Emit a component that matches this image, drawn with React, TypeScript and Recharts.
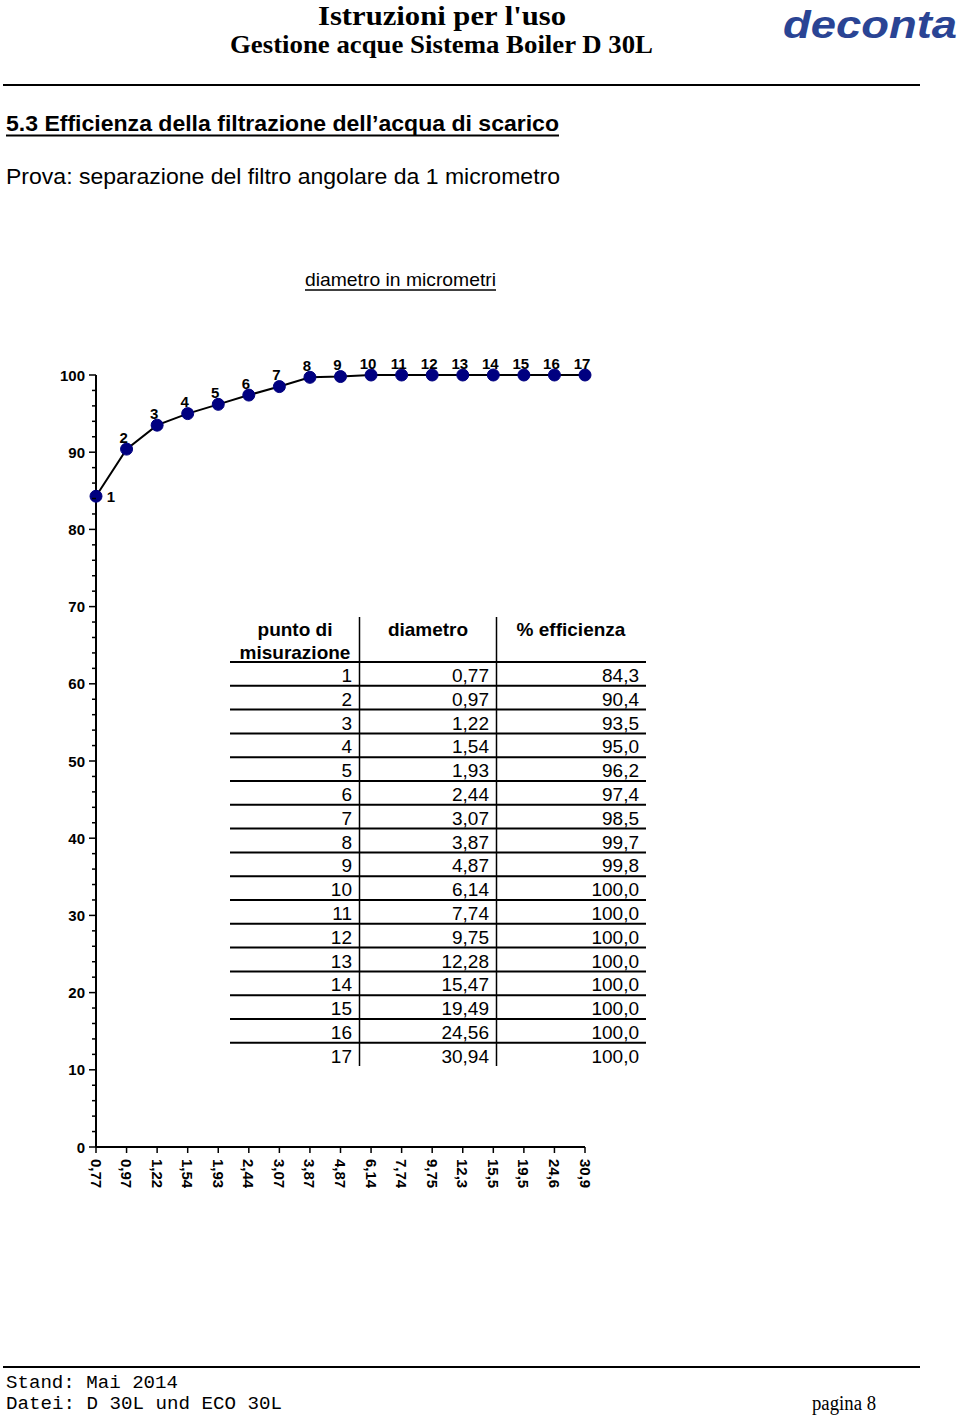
import React from 'react';
import { LineChart, Line, XAxis, YAxis, LabelList } from 'recharts';

// ---- data ----
const pointIds = ['1', '2', '3', '4', '5', '6', '7', '8', '9', '10', '11', '12', '13', '14', '15', '16', '17'];
const diameterLabels = ['0,77', '0,97', '1,22', '1,54', '1,93', '2,44', '3,07', '3,87', '4,87', '6,14', '7,74', '9,75', '12,28', '15,47', '19,49', '24,56', '30,94'];
const axisTickLabels = ['0,77', '0,97', '1,22', '1,54', '1,93', '2,44', '3,07', '3,87', '4,87', '6,14', '7,74', '9,75', '12,3', '15,5', '19,5', '24,6', '30,9'];
const efficiency = [84.3, 90.4, 93.5, 95.0, 96.2, 97.4, 98.5, 99.7, 99.8, 100, 100, 100, 100, 100, 100, 100, 100];
const yTicks = [0, 2, 4, 6, 8, 10, 12, 14, 16, 18, 20, 22, 24, 26, 28, 30, 32, 34, 36, 38, 40, 42, 44, 46, 48, 50, 52, 54, 56, 58, 60, 62, 64, 66, 68, 70, 72, 74, 76, 78, 80, 82, 84, 86, 88, 90, 92, 94, 96, 98, 100];

const data = pointIds.map((p, i) => ({ point: p, d: axisTickLabels[i], eff: efficiency[i] }));

const SANS = '"Liberation Sans", Arial, sans-serif';
const SERIF = '"Liberation Serif", "Times New Roman", serif';
const MONO = '"Liberation Mono", "Courier New", monospace';

const YTick = (props: any) => {
  const { x, y, payload } = props;
  const v = payload.value as number;
  const major = v % 10 === 0;
  return (
    <g>
      <line x1={x - (major ? 7 : 4)} x2={x} y1={y} y2={y} stroke="#000" strokeWidth={1.5} />
      {major && (
        <text x={x - 11} y={y} textAnchor="end" dominantBaseline="central" fontSize={15} fontWeight="bold" fontFamily={SANS} fill="#000">
          {v}
        </text>
      )}
    </g>
  );
};

const XTick = (props: any) => {
  const { x, y, payload } = props;
  return (
    <g>
      <line x1={x} x2={x} y1={y} y2={y + 6} stroke="#000" strokeWidth={1.5} />
      <text transform={`translate(${x},${y + 12}) rotate(90)`} textAnchor="start" dominantBaseline="central" fontSize={15} fontWeight="bold" fontFamily={SANS} fill="#000">
        {payload.value}
      </text>
    </g>
  );
};

const PointLabel = (props: any) => {
  const { x, y, value, index } = props;
  if (index === 0) {
    return (
      <text x={x + 15} y={y} textAnchor="middle" dominantBaseline="central" fontSize={15} fontWeight="bold" fontFamily={SANS} fill="#000">
        {value}
      </text>
    );
  }
  return (
    <text x={x - 3} y={y - 12} textAnchor="middle" dominantBaseline="central" fontSize={15} fontWeight="bold" fontFamily={SANS} fill="#000">
      {value}
    </text>
  );
};

const fmt1 = (v: number) => v.toFixed(1).replace('.', ',');

export default function App() {
  const rowTop = 662;
  const rowH = 23.8;
  return (
    <div style={{ position: 'absolute', left: 0, top: 0, width: 960, height: 1417, background: '#fff', overflow: 'hidden' }}>
      <div style={{ position: 'absolute', left: 0, top: 0 }}>
        <LineChart width={960} height={1417} data={data} margin={{ top: 375, right: 375, left: 36, bottom: 210 }}>
          <XAxis
            dataKey="d"
            type="category"
            interval={0}
            tickSize={0}
            tickMargin={0}
            height={60}
            axisLine={{ stroke: '#000', strokeWidth: 2 }}
            tickLine={false}
            tick={XTick}
          />
          <YAxis
            type="number"
            domain={[0, 100]}
            ticks={yTicks}
            interval={0}
            tickSize={0}
            tickMargin={0}
            width={60}
            axisLine={{ stroke: '#000', strokeWidth: 2 }}
            tickLine={false}
            tick={YTick}
          />
          <Line
            type="linear"
            dataKey="eff"
            stroke="#000"
            strokeWidth={2}
            dot={{ r: 6, fill: '#000080', stroke: '#000080', strokeWidth: 1 }}
            activeDot={false}
            isAnimationActive={false}
          >
            <LabelList dataKey="point" content={PointLabel} />
          </Line>
        </LineChart>
      </div>
      <svg width={960} height={1417} style={{ position: 'absolute', left: 0, top: 0, pointerEvents: 'none' }}>
        {/* header */}
        <text x={318} y={25} fontSize={28} fontWeight="bold" fontFamily={SERIF} textLength={248} lengthAdjust="spacingAndGlyphs" fill="#000">Istruzioni per l'uso</text>
        <text x={230} y={53} fontSize={26} fontWeight="bold" fontFamily={SERIF} textLength={423} lengthAdjust="spacingAndGlyphs" fill="#000">Gestione acque Sistema Boiler D 30L</text>
        <text x={783} y={38} fontSize={38} fontWeight="bold" fontStyle="italic" fontFamily={SANS} textLength={174} lengthAdjust="spacingAndGlyphs" fill="#2a4494">deconta</text>
        <line x1={3} x2={920} y1={85} y2={85} stroke="#000" strokeWidth={2} />

        <text x={6} y={131} fontSize={22} fontWeight="bold" fontFamily={SANS} textLength={553} lengthAdjust="spacingAndGlyphs" fill="#000">5.3 Efficienza della filtrazione dell’acqua di scarico</text>
        <line x1={6} x2={559} y1={135.5} y2={135.5} stroke="#000" strokeWidth={2} />
        <text x={6} y={184} fontSize={22} fontFamily={SANS} textLength={554} lengthAdjust="spacingAndGlyphs" fill="#000">Prova: separazione del filtro angolare da 1 micrometro</text>

        <text x={305} y={286} fontSize={18.5} fontFamily={SANS} textLength={191} lengthAdjust="spacingAndGlyphs" fill="#000">diametro in micrometri</text>
        <line x1={305} x2={496} y1={290} y2={290} stroke="#000" strokeWidth={1.5} />

        {/* table */}
        <line x1={359.5} x2={359.5} y1={617} y2={1066} stroke="#000" strokeWidth={1.5} />
        <line x1={496.5} x2={496.5} y1={617} y2={1066} stroke="#000" strokeWidth={1.5} />
        <text x={295} y={636} textAnchor="middle" fontSize={19} fontWeight="bold" fontFamily={SANS} fill="#000">punto di</text>
        <text x={295} y={659} textAnchor="middle" fontSize={19} fontWeight="bold" fontFamily={SANS} fill="#000">misurazione</text>
        <text x={428} y={636} textAnchor="middle" fontSize={19} fontWeight="bold" fontFamily={SANS} fill="#000">diametro</text>
        <text x={571} y={636} textAnchor="middle" fontSize={19} fontWeight="bold" fontFamily={SANS} fill="#000">% efficienza</text>
        {pointIds.map((p, i) => (
          <g key={p}>
            <line x1={230} x2={646} y1={rowTop + i * rowH} y2={rowTop + i * rowH} stroke="#000" strokeWidth={2} />
            <text x={352} y={rowTop + i * rowH + 20} textAnchor="end" fontSize={19} fontFamily={SANS} fill="#000">{p}</text>
            <text x={489} y={rowTop + i * rowH + 20} textAnchor="end" fontSize={19} fontFamily={SANS} fill="#000">{diameterLabels[i]}</text>
            <text x={639} y={rowTop + i * rowH + 20} textAnchor="end" fontSize={19} fontFamily={SANS} fill="#000">{fmt1(efficiency[i])}</text>
          </g>
        ))}

        {/* footer */}
        <line x1={3} x2={920} y1={1367} y2={1367} stroke="#000" strokeWidth={2} />
        <text x={6} y={1388} fontSize={18} fontFamily={MONO} textLength={172} lengthAdjust="spacingAndGlyphs" fill="#000">Stand: Mai 2014</text>
        <text x={6} y={1409} fontSize={18} fontFamily={MONO} textLength={276} lengthAdjust="spacingAndGlyphs" fill="#000">Datei: D 30L und ECO 30L</text>
        <text x={812} y={1410} fontSize={20} fontFamily={SERIF} textLength={64} lengthAdjust="spacingAndGlyphs" fill="#000">pagina 8</text>
      </svg>
    </div>
  );
}
